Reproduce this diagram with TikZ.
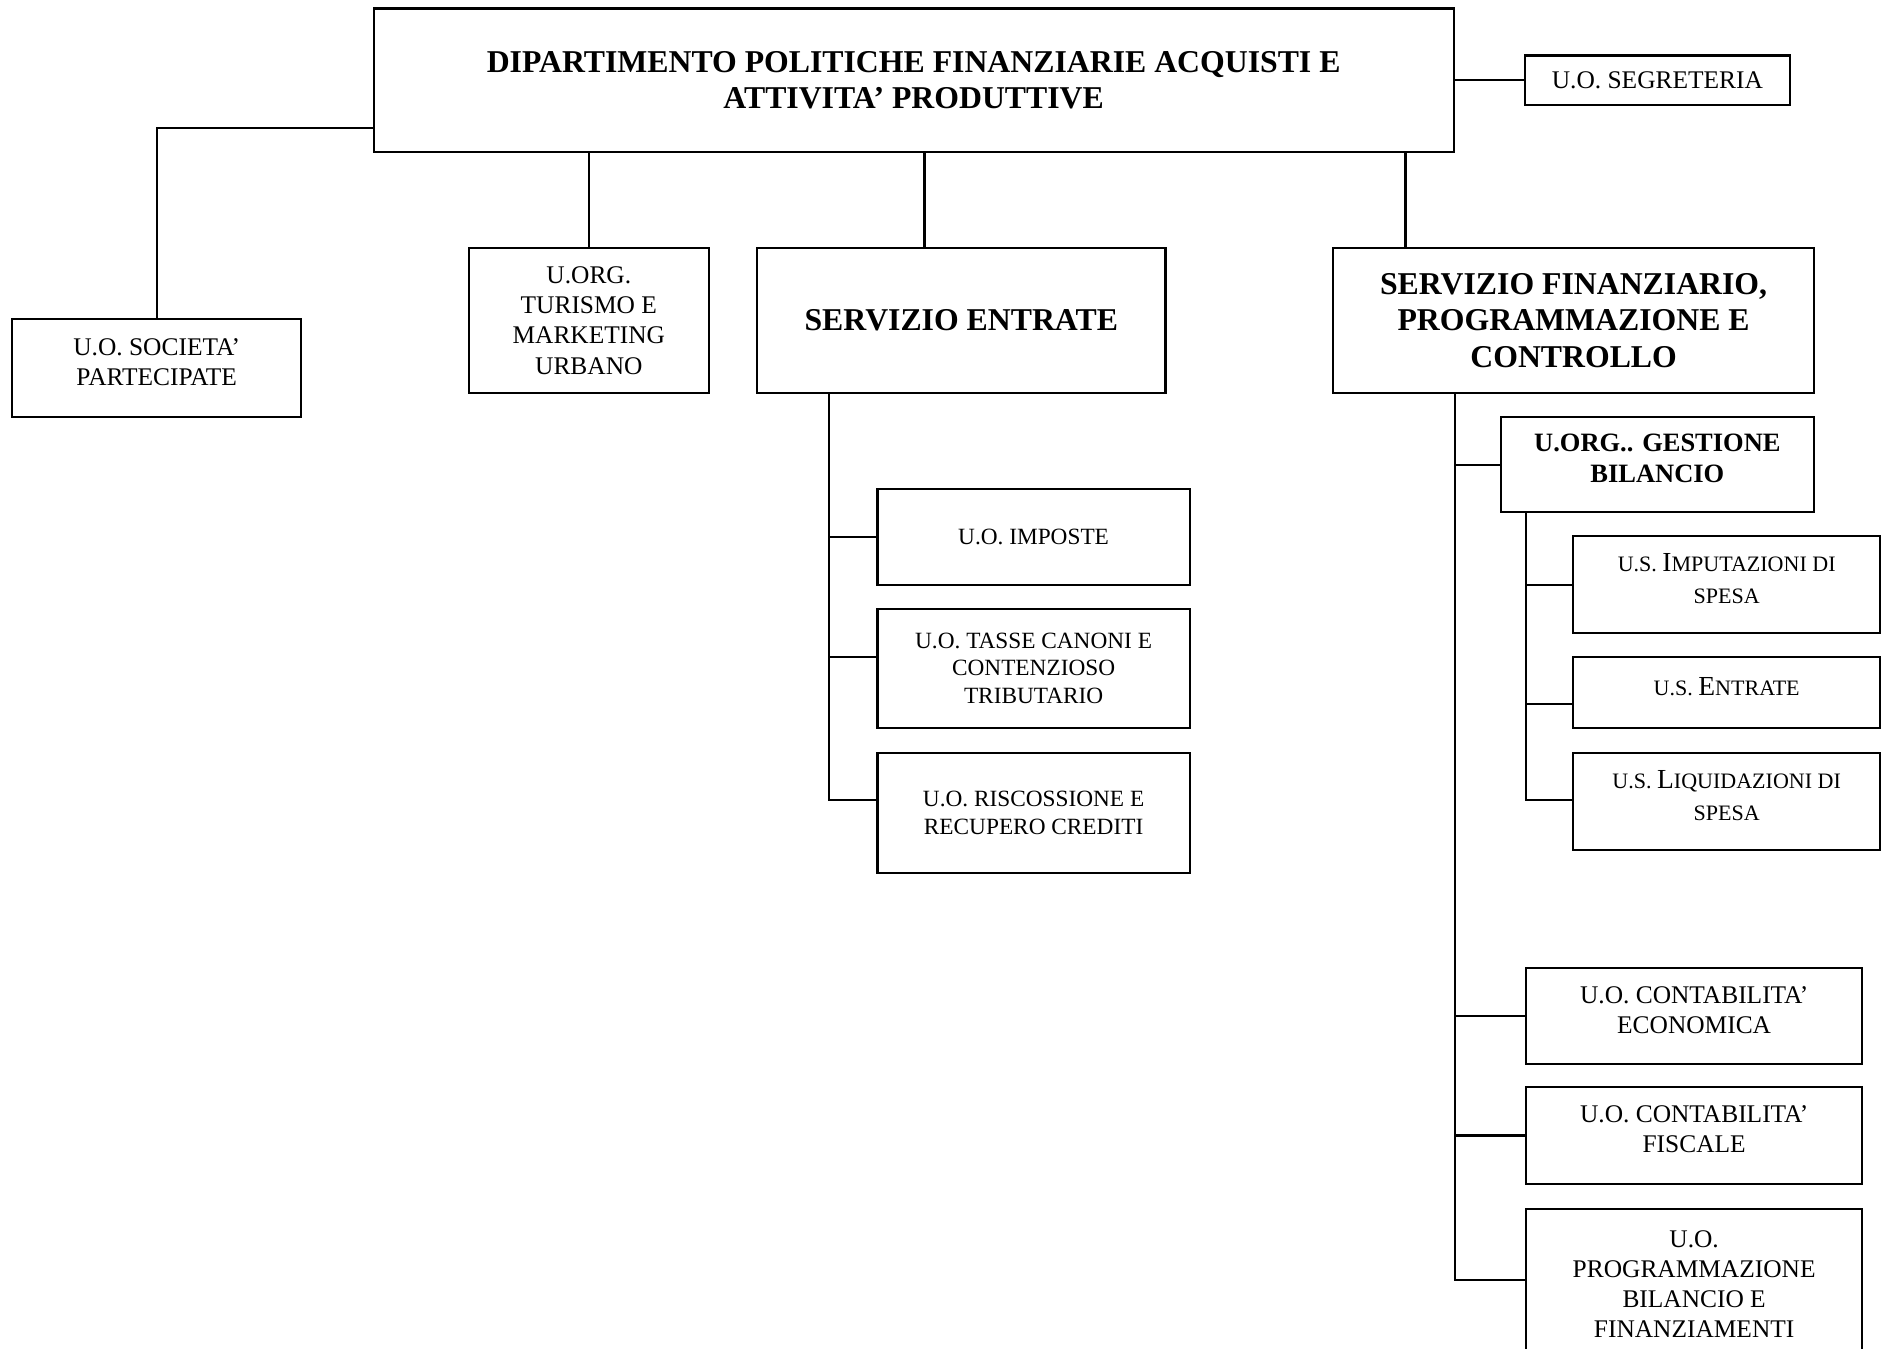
\documentclass[tikz,border=0pt]{standalone}
\usepackage{fontspec}
\setmainfont{Liberation Serif}
\usetikzlibrary{calc}

\newcommand{\lowcaps}[1]{{\fontsize{10.4}{15.3}\selectfont #1}}

\begin{document}
\begin{tikzpicture}[x=0.02cm,y=-0.02cm,line width=1pt,
    unit/.style={draw,shape=rectangle,align=center,inner sep=0pt,font=\fontsize{12}{14.2}\selectfont},
    office/.style={unit,font=\fontsize{11}{13}\selectfont},
    section/.style={unit,font=\bfseries\fontsize{15}{17.4}\selectfont},
    manager/.style={unit,font=\bfseries\fontsize{12.5}{14.7}\selectfont},
    subunit/.style={unit,font=\fontsize{13}{15.3}\selectfont},
    lifted/.style={text depth=.2cm}]

      \useasboundingbox (0,0) rectangle (1568,1119);

      % top level
      \path (758,66.5)    node[section,minimum width=17.92cm,minimum height=2.38cm] (dip)  {DIPARTIMENTO POLITICHE FINANZIARIE ACQUISTI E\\ATTIVITA’ PRODUTTIVE};
      \path (1375,66.5)   node[unit,minimum width=4.4cm,minimum height=.82cm]       (segr) {U.O. SEGRETERIA};
      \path (130,305.5)   node[unit,lifted,minimum width=4.8cm,minimum height=1.62cm] (soc) {U.O. SOCIETA’\\PARTECIPATE};
      \path (488.5,266)   node[unit,minimum width=3.98cm,minimum height=2.4cm]      (tur)  {U.ORG.\\TURISMO E\\MARKETING\\URBANO};
      \path (797.5,266)   node[section,minimum width=6.78cm,minimum height=2.4cm]   (entr) {SERVIZIO ENTRATE};
      \path (1305.5,266)  node[section,minimum width=7.98cm,minimum height=2.4cm]   (fin)  {SERVIZIO FINANZIARIO,\\PROGRAMMAZIONE E\\CONTROLLO};

      % servizio entrate
      \path (857.5,445.5) node[office,minimum width=5.18cm,minimum height=1.58cm]   (imp)  {U.O. IMPOSTE};
      \path (857.5,554.5) node[office,minimum width=5.18cm,minimum height=1.98cm]   (tas)  {U.O. TASSE CANONI E\\CONTENZIOSO\\TRIBUTARIO};
      \path (857.5,674.5) node[office,minimum width=5.18cm,minimum height=1.98cm]   (ris)  {U.O. RISCOSSIONE E\\RECUPERO CREDITI};

      % servizio finanziario
      \path (1375,385.5)  node[manager,lifted,minimum width=5.2cm,minimum height=1.58cm] (ges) {U.ORG.. GESTIONE\\BILANCIO};
      \path (1432.5,485)  node[subunit,lifted,minimum width=5.1cm,minimum height=1.6cm]  (imps) {\lowcaps{U.S. }I\lowcaps{MPUTAZIONI DI}\\\lowcaps{SPESA}};
      \path (1432.5,574.5) node[subunit,lifted,minimum width=5.1cm,minimum height=1.18cm] (ents) {\lowcaps{U.S. }E\lowcaps{NTRATE}};
      \path (1432.5,665)  node[subunit,lifted,minimum width=5.1cm,minimum height=1.6cm]  (liqs) {\lowcaps{U.S. }L\lowcaps{IQUIDAZIONI DI}\\\lowcaps{SPESA}};
      \path (1405.5,843)  node[unit,lifted,minimum width=5.58cm,minimum height=1.6cm]    (eco)  {U.O. CONTABILITA’\\ECONOMICA};
      \path (1405.5,942)  node[unit,lifted,minimum width=5.58cm,minimum height=1.6cm]    (fis)  {U.O. CONTABILITA’\\FISCALE};
      \path (1405.5,1065) node[unit,minimum width=5.58cm,minimum height=2.48cm]          (prog) {U.O.\\PROGRAMMAZIONE\\BILANCIO E\\FINANZIAMENTI};

      % bends and joints
      \coordinate (socbend) at (130,106);
      \coordinate (entrtop) at (767,206);
      \coordinate (fintop)  at (1166,206);
      \coordinate (entrbus) at (688,664);
      \coordinate (tasjoin) at (688,545);
      \coordinate (finbus)  at (1207,1062);
      \coordinate (gesbus)  at (1266,664);
      \coordinate (entjoin) at (1266,584);

      \draw (dip.west |- socbend) -- (socbend) -- (soc.north);
      \draw (dip.east) -- (segr.west);
      \draw (tur.north) -- (tur.north |- dip.south);
      \draw (entrtop) -- (entrtop |- dip.south);
      \draw (fintop)  -- (fintop |- dip.south);

      \draw (entrbus |- entr.south) -- (entrbus) -- (entrbus -| ris.west);
      \draw (entrbus |- imp.west) -- (imp.west);
      \draw (tasjoin) -- (tasjoin -| tas.west);

      \draw (finbus |- fin.south) -- (finbus) -- (finbus -| prog.west);
      \draw (finbus |- ges.west) -- (ges.west);
      \draw (finbus |- eco.west) -- (eco.west);
      \draw (finbus |- fis.west) -- (fis.west);

      \draw (gesbus |- ges.south) -- (gesbus) -- (gesbus -| liqs.west);
      \draw (gesbus |- imps.west) -- (imps.west);
      \draw (entjoin) -- (entjoin -| ents.west);

    \end{tikzpicture}
\end{document}
